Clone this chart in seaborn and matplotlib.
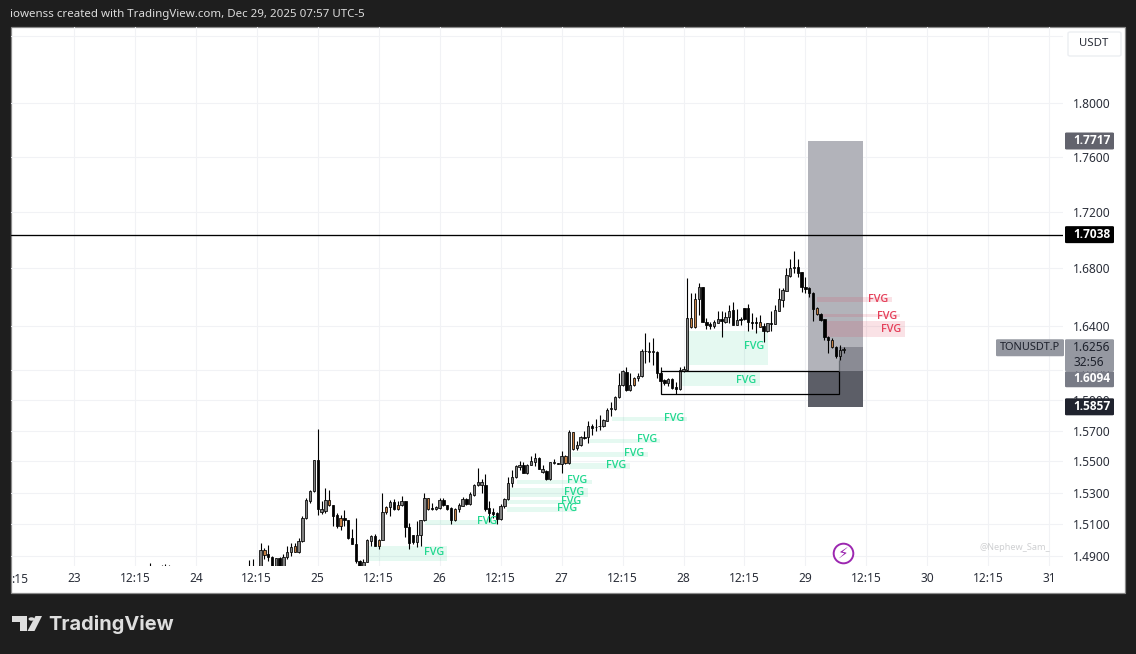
import numpy as np
import pandas as pd
import seaborn as sns
import matplotlib
matplotlib.use("Agg")
import matplotlib.pyplot as plt
from matplotlib.patches import Rectangle, Polygon, Circle, FancyBboxPatch

# ---------- DATA (TONUSDT.P, 45 minute candles) ----------
opens = [1.483,1.483,1.483,1.483,1.4906,1.4910,1.4894,1.483,1.4886,1.483,
 1.4896,1.4927,1.4927,1.4925,1.4991,1.5138,1.5249,1.5308,1.5507,1.5178,
 1.5180,1.5220,1.5220,1.5159,1.5086,1.5138,1.5125,1.5013,1.4976,1.4871,
 1.483,1.4865,1.4993,1.5026,1.4962,1.5001,1.5173,1.5207,1.5241,1.5192,
 1.5220,1.5245,1.5081,1.5034,1.4987,1.5032,1.5125,1.5195,1.5201,1.5195,
 1.5199,1.5254,1.5218,1.5203,1.5123,1.5192,1.5216,1.5260,1.5224,1.5287,
 1.5346,1.5346,1.5348,1.5201,1.5176,1.5169,1.5135,1.5211,1.5258,1.5359,
 1.5397,1.5464,1.5479,1.5426,1.5479,1.5496,1.5525,1.5432,1.5437,1.5384,
 1.5489,1.5489,1.5485,1.5489,1.5489,1.5582,1.5584,1.5607,1.5660,1.5660,
 1.5730,1.5722,1.5728,1.5730,1.5763,1.5841,1.5841,1.5920,1.60,1.6091,
 1.5969,1.6002,1.6047,1.6060,1.6229,1.6227,1.6227,1.6227,1.6084,1.6033,
 1.6013,1.6042,1.5991,1.5976,1.6093,1.6103,1.6391,1.6391,1.6585,1.6668,
 1.6430,1.6414,1.6403,1.6423,1.6449,1.6430,1.6460,1.6511,1.6409,1.6449,
 1.6522,1.6522,1.6428,1.6428,1.6396,1.64,1.6367,1.6419,1.6416,1.6506,
 1.6583,1.6645,1.6749,1.68,1.6807,1.6772,1.6673,1.6661,1.6631,1.6481,
 1.6481,1.6446,1.6328,1.6261,1.6261,1.62,1.6234]
highs = [1.4875,1.4879,1.483,1.4983,1.4952,1.4970,1.49,1.4890,1.4892,1.4910,
 1.4962,1.4978,1.4978,1.5013,1.5148,1.5264,1.5316,1.5511,1.5711,1.5243,
 1.5327,1.5316,1.5222,1.5171,1.5159,1.5186,1.5126,1.5069,1.5138,1.4873,
 1.4879,1.5003,1.5034,1.5038,1.5007,1.5296,1.5216,1.5254,1.5258,1.5243,
 1.5275,1.5247,1.5106,1.5034,1.5121,1.5127,1.53,1.5268,1.5232,1.5215,
 1.5262,1.5262,1.5218,1.5207,1.5199,1.5232,1.5270,1.5262,1.5306,1.5354,
 1.5458,1.5384,1.5418,1.5243,1.5201,1.5173,1.5228,1.5264,1.5397,1.5443,
 1.5475,1.55,1.5496,1.5481,1.5534,1.5552,1.5530,1.5475,1.5443,1.5498,
 1.5518,1.5491,1.5568,1.5541,1.5702,1.5693,1.5632,1.5664,1.5698,1.5763,
 1.5746,1.5774,1.58,1.5778,1.5846,1.5887,1.5927,1.6082,1.61,1.6123,
 1.6082,1.6056,1.6082,1.6241,1.635,1.6291,1.6316,1.6232,1.6123,1.6042,
 1.6047,1.6049,1.6022,1.6123,1.6132,1.6730,1.6631,1.6626,1.6696,1.6673,
 1.6453,1.6430,1.6442,1.6506,1.6506,1.65,1.6546,1.6564,1.6516,1.6460,
 1.6525,1.6550,1.6488,1.6460,1.6474,1.6419,1.6423,1.6506,1.6546,1.6661,
 1.6661,1.68,1.6869,1.6920,1.6869,1.6777,1.6737,1.6673,1.6638,1.6534,
 1.6492,1.6451,1.6333,1.6317,1.6265,1.6270,1.6256]
lows = [1.483,1.483,1.483,1.483,1.4884,1.4869,1.483,1.483,1.483,1.483,
 1.4879,1.49,1.4923,1.4919,1.4987,1.5133,1.5232,1.5304,1.5154,1.5162,
 1.5171,1.5211,1.5086,1.5075,1.5065,1.5086,1.5003,1.4972,1.4859,1.483,
 1.483,1.4861,1.4962,1.4960,1.4941,1.4997,1.5165,1.5152,1.5190,1.5186,
 1.5216,1.5020,1.4945,1.4972,1.4958,1.4962,1.5121,1.5190,1.5186,1.5190,
 1.5195,1.5216,1.5186,1.51,1.5119,1.5173,1.5211,1.5220,1.5220,1.5279,
 1.5342,1.5298,1.5180,1.5113,1.5138,1.5102,1.5123,1.5201,1.5254,1.5333,
 1.5390,1.5443,1.5422,1.5418,1.5475,1.5470,1.5449,1.5426,1.5380,1.5380,
 1.5485,1.5483,1.5422,1.5485,1.5485,1.5575,1.5575,1.5602,1.5647,1.5620,
 1.5669,1.5698,1.5704,1.5726,1.5761,1.5796,1.5839,1.5916,1.5998,1.5965,
 1.5965,1.5998,1.6027,1.6058,1.615,1.6154,1.6139,1.6051,1.5998,1.6005,
 1.5993,1.5976,1.5944,1.5971,1.6087,1.6099,1.6387,1.6387,1.6476,1.6428,
 1.6380,1.6378,1.6385,1.6419,1.6328,1.6419,1.6423,1.6405,1.6405,1.6405,
 1.6442,1.6369,1.6378,1.6355,1.6391,1.6295,1.6362,1.6369,1.6412,1.6502,
 1.6534,1.6640,1.6742,1.6765,1.6742,1.6638,1.6631,1.6599,1.6435,1.6476,
 1.6437,1.6306,1.6220,1.6250,1.6182,1.6171,1.6216]
closes = [1.483,1.483,1.483,1.4935,1.4935,1.4894,1.483,1.4886,1.483,1.4896,
 1.4927,1.4958,1.4960,1.4995,1.5140,1.5254,1.5308,1.5507,1.5192,1.5194,
 1.5251,1.5251,1.5152,1.5086,1.5138,1.5123,1.5011,1.4976,1.4869,1.483,
 1.4865,1.4997,1.5028,1.4962,1.5001,1.5176,1.5207,1.5237,1.5192,1.5220,
 1.5247,1.5081,1.4983,1.4987,1.5034,1.5123,1.5264,1.5264,1.5195,1.5205,
 1.5254,1.5218,1.5195,1.5123,1.5195,1.5220,1.5260,1.5224,1.5289,1.5348,
 1.5365,1.5369,1.5197,1.5169,1.5161,1.5133,1.5211,1.5258,1.5359,1.5397,
 1.5468,1.5479,1.5424,1.5477,1.55,1.5525,1.5454,1.5454,1.5384,1.5494,
 1.5494,1.5485,1.5534,1.5534,1.5688,1.5688,1.5609,1.5656,1.5651,1.5730,
 1.5717,1.5726,1.5733,1.5767,1.5839,1.5846,1.5922,1.6005,1.6093,1.5969,
 1.6002,1.6049,1.6064,1.6232,1.6232,1.6232,1.6232,1.6082,1.6027,1.6013,
 1.6042,1.5982,1.5976,1.61,1.6109,1.6453,1.6453,1.6585,1.6668,1.6430,
 1.6407,1.64,1.6425,1.6449,1.6432,1.6460,1.6506,1.6407,1.6442,1.6442,
 1.6446,1.6425,1.6419,1.6419,1.6428,1.6369,1.6419,1.6414,1.6511,1.6585,
 1.6650,1.6753,1.68,1.6807,1.6770,1.6673,1.6656,1.6631,1.6520,1.6522,
 1.6442,1.6328,1.6306,1.6306,1.62,1.6234,1.6241]
orange_bars = [4,12,21,24,34,36,39,47,54,83,85,101,116,117,134,149,153]
# Candles that only poke into the clipped bottom edge of the pane
early_bars = [-26,-23,-22,-21]
early_highs = [1.4857,1.4845,1.4850,1.4845]

# y axis
price_ticks = [1.49,1.51,1.53,1.55,1.57,1.59,1.61,1.64,1.68,1.72,1.76,1.80]
price_labels = ["1.4900","1.5100","1.5300","1.5500","1.5700","1.5900","1.6100",
                "1.6400","1.6800","1.7200","1.7600","1.8000"]
price_top_grid = 1.851
# x axis
time_ticks = [-46,-30,-14,2,18,34,50,66,82,98,114,130,146,162,178,194,210]
time_labels = ["23","12:15","24","12:15","25","12:15","26","12:15","27","12:15",
               "28","12:15","29","12:15","30","12:15","31"]

# Fair value gaps
fvg_left   = [30.9,46.1,67.6,67.6,68.4,70.3,84.2,84.7,89.4,95.2,115.0,113.6]
fvg_right  = [52.0,65.0,85.5,86.3,88.9,89.9,99.9,104.6,107.8,114.9,136.1,134.0]
fvg_top    = [1.4962,1.5125,1.5208,1.5252,1.5329,1.5380,1.5489,1.5561,1.5645,1.5789,1.6366,1.6089]
fvg_bottom = [1.4869,1.5094,1.5176,1.5227,1.5271,1.5354,1.5451,1.5528,1.5619,1.5763,1.6136,1.5995]
fvg_text_x = [48.5,62.4,83.4,84.4,85.2,86.0,96.2,101.0,104.4,111.5,132.5,130.4]
fvg_text_y = [1.4919,1.5119,1.5201,1.5240,1.5303,1.5374,1.5476,1.5548,1.5639,1.5783,1.6263,1.6035]
red_left   = [149.0,150.5,151.1]
red_right  = [168.7,170.8,172.1]
red_top    = [1.6600,1.6483,1.6435]
red_bottom = [1.6566,1.6462,1.6325]
red_text_x = [165.2,167.4,168.4]
red_text_y = [1.6586,1.6469,1.6380]

# Position tool and levels
level_line = 1.7038
target_price = 1.7717
entry_price = 1.6094
stop_price = 1.5857
last_price = 1.6256
box_left, box_mid, box_right = 146.6, 154.8, 161.0
frame_left, frame_right = 108.0, 154.8
frame_top, frame_bottom = 1.6094, 1.5941

# ---------- FIGURE ----------
W, H = 1136, 654
sns.set_theme(style="white")
plt.rcParams["font.family"] = ["Noto Sans", "DejaVu Sans"]
df = pd.DataFrame({"open": opens, "high": highs, "low": lows, "close": closes})
df["bar"] = np.arange(len(df))

fig = plt.figure(figsize=(W / 100, H / 100), dpi=100, facecolor="#1e1e1e")

def fx(x): return x / W
def fy(y): return 1 - y / H

# white chart pane
fig.add_artist(Rectangle((fx(11), fy(593)), 1114 / W, 566 / H, transform=fig.transFigure,
                         facecolor="white", edgecolor="#8a8a8a", lw=0.9, zorder=-1))

ax = fig.add_axes([fx(11), fy(566), 1052 / W, 539 / H], facecolor="none")
ax.set_yscale("log")
ax.set_xlim(-62.5, 213.6)
ax.set_ylim(1.4838, 1.858)
for s in ax.spines.values():
    s.set_visible(False)

ax.yaxis.set_major_locator(matplotlib.ticker.FixedLocator(price_ticks + [price_top_grid]))
ax.yaxis.set_minor_locator(matplotlib.ticker.NullLocator())
ax.yaxis.set_major_formatter(matplotlib.ticker.FixedFormatter(price_labels + [""]))
ax.yaxis.tick_right()
ax.set_xticks(time_ticks)
ax.set_xticklabels(time_labels)
ax.tick_params(axis="y", length=0, pad=7.5, labelsize=8.6, labelcolor="#2a2e39")
ax.tick_params(axis="x", length=0, pad=4.6, labelsize=8.6, labelcolor="#2a2e39")
ax.grid(True, color="#f1f2f5", lw=0.8, zorder=0)
ax.set_axisbelow(True)
ax.annotate(":15", xy=(-62.5, 0), xycoords=("data", "axes fraction"), xytext=(0, -9.4),
            textcoords="offset points", ha="left", va="center", fontsize=8.6,
            color="#2a2e39", annotation_clip=False)

# Position tool zones
ax.add_patch(Rectangle((box_left, entry_price), box_right - box_left, target_price - entry_price,
                       facecolor="#b2b3ba", edgecolor="none", zorder=1))
ax.add_patch(Rectangle((box_left, stop_price), box_right - box_left, entry_price - stop_price,
                       facecolor="#5c5e67", edgecolor="none", zorder=1))
ax.add_patch(Rectangle((box_mid, entry_price), box_right - box_mid, last_price - entry_price,
                       facecolor="#8a8b94", edgecolor="none", zorder=1.1))

# FVG zones
for l, r, t, b, tx, ty in zip(fvg_left, fvg_right, fvg_top, fvg_bottom, fvg_text_x, fvg_text_y):
    ax.add_patch(Rectangle((l, b), r - l, t - b, facecolor="#00c878", alpha=0.1, edgecolor="none", zorder=2))
    ax.text(tx, ty, "FVG", color="#22d890", fontsize=7.8, family="Open Sans", fontweight="semibold",
            ha="center", va="center", zorder=6)
for l, r, t, b, tx, ty in zip(red_left, red_right, red_top, red_bottom, red_text_x, red_text_y):
    ax.add_patch(Rectangle((l, b), r - l, t - b, facecolor="#e0405a", alpha=0.15, edgecolor="none", zorder=2))
    ax.text(tx, ty, "FVG", color="#e5405a", fontsize=7.8, family="Open Sans", fontweight="semibold",
            ha="center", va="center", zorder=6)

# Candles
body_colors = ["#c58045" if i in orange_bars else ("#808080" if c > o else "#000000")
               for i, (o, c) in enumerate(zip(opens, closes))]
ax.vlines(df["bar"], df["low"], df["high"], color="black", lw=0.8, zorder=3)
ax.vlines(early_bars, [1.483] * len(early_bars), early_highs, color="black", lw=0.8, zorder=3)
ax.bar(df["bar"], (df["close"] - df["open"]).abs(), bottom=df[["open", "close"]].min(axis=1),
       width=0.62, color=body_colors, edgecolor="black", linewidth=0.55, zorder=4)

# Horizontal level and frame
sns.lineplot(x=[-62.5, 213.6], y=[level_line, level_line], color="black", lw=0.95,
             estimator=None, ax=ax, zorder=5, legend=False)
ax.add_patch(Rectangle((frame_left, frame_bottom), frame_right - frame_left, frame_top - frame_bottom,
                       facecolor="none", edgecolor="black", lw=0.9, zorder=5))
ax.vlines([frame_right], [frame_top], [1.6171], color="#666a70", lw=0.9, zorder=5)

# Lightning badge
ax.scatter([155.8], [1.4919], s=200, facecolor="white", edgecolor="#9c27b0", lw=1.4, zorder=6)
ax.text(155.8, 1.4919, "\u26a1", family="DejaVu Sans", color="#9c27b0", fontsize=11,
        ha="center", va="center", zorder=7)

# Price chips on the axis
fig.canvas.draw()
def ypix(p):
    return H - ax.transData.transform((0, p))[1]

def chip(x0, x1, y0, y1, color):
    fig.add_artist(FancyBboxPatch((fx(x0), fy(y1)), (x1 - x0) / W, (y1 - y0) / H,
                                  boxstyle="round,pad=0,rounding_size=0.0015",
                                  transform=fig.transFigure, facecolor=color,
                                  edgecolor="none", zorder=5))

def chip_text(x, y, s, color, bold=True):
    fig.text(fx(x), fy(y), s, color=color, fontsize=8.6, ha="left", va="center",
             family="Open Sans" if bold else "Noto Sans",
             fontweight="bold" if bold else "normal", zorder=6)

chip(1065, 1114, ypix(target_price) - 8.5, ypix(target_price) + 8.5, "#62636d")
chip_text(1073, ypix(target_price), "1.7717", "white")
chip(1065, 1114, ypix(level_line) - 8.5, ypix(level_line) + 8.5, "#000000")
chip_text(1073, ypix(level_line), "1.7038", "white")
chip(1065, 1114, ypix(last_price) - 8, ypix(entry_price), "#9598a1")
chip_text(1073, ypix(last_price), "1.6256", "#1e222d", bold=False)
chip_text(1073, ypix(last_price) + 15, "32:56", "#1e222d", bold=False)
chip(1065, 1114, ypix(entry_price), ypix(entry_price) + 16, "#787b86")
chip_text(1073, ypix(entry_price) + 7.5, "1.6094", "white")
chip(1065, 1114, ypix(stop_price) - 8.5, ypix(stop_price) + 8.5, "#20232e")
chip_text(1073, ypix(stop_price), "1.5857", "white")
chip(996, 1064, ypix(last_price) - 8, ypix(last_price) + 9, "#9598a1")
fig.text(fx(1030), fy(ypix(last_price) + 0.5), "TONUSDT.P", color="#1e222d", fontsize=7.9,
         ha="center", va="center", zorder=6)

# USDT button
fig.add_artist(FancyBboxPatch((fx(1068), fy(56)), 53 / W, 24 / H,
                              boxstyle="round,pad=0,rounding_size=0.002",
                              transform=fig.transFigure, facecolor="white",
                              edgecolor="#eceef2", lw=1, zorder=5))
fig.text(fx(1094), fy(44), "USDT", color="#2a2e39", fontsize=8.2, ha="center", va="center", zorder=6)

# Watermark and header
fig.text(fx(1015), fy(548), "@Nephew_Sam_", color="#cfd0d2", fontsize=6.6, ha="center", va="center")
fig.text(fx(10.5), fy(15), "iowenss created with TradingView.com, Dec 29, 2025 07:57 UTC-5",
         color="#dcdcdc", fontsize=8.3, ha="left", va="center")

# TradingView logo
logo = "#dedede"
fig.add_artist(Polygon([(fx(12), fy(616)), (fx(27), fy(616)), (fx(27), fy(631)), (fx(19.5), fy(631)),
                        (fx(19.5), fy(621.5)), (fx(12), fy(621.5))], closed=True,
                       transform=fig.transFigure, facecolor=logo, edgecolor="none"))
fig.add_artist(Polygon([(fx(35.5), fy(616)), (fx(42), fy(616)), (fx(34.5), fy(631)), (fx(27.5), fy(631))],
                       closed=True, transform=fig.transFigure, facecolor=logo, edgecolor="none"))
fig.add_artist(Circle((fx(31.5), fy(619)), 3 / W, transform=fig.transFigure, facecolor=logo, edgecolor="none"))
fig.text(fx(48), fy(624), "TradingView", color=logo, fontsize=14.4, family="Inter",
         fontweight="bold", ha="left", va="center")

fig.savefig("out.png", dpi=100, facecolor=fig.get_facecolor())
